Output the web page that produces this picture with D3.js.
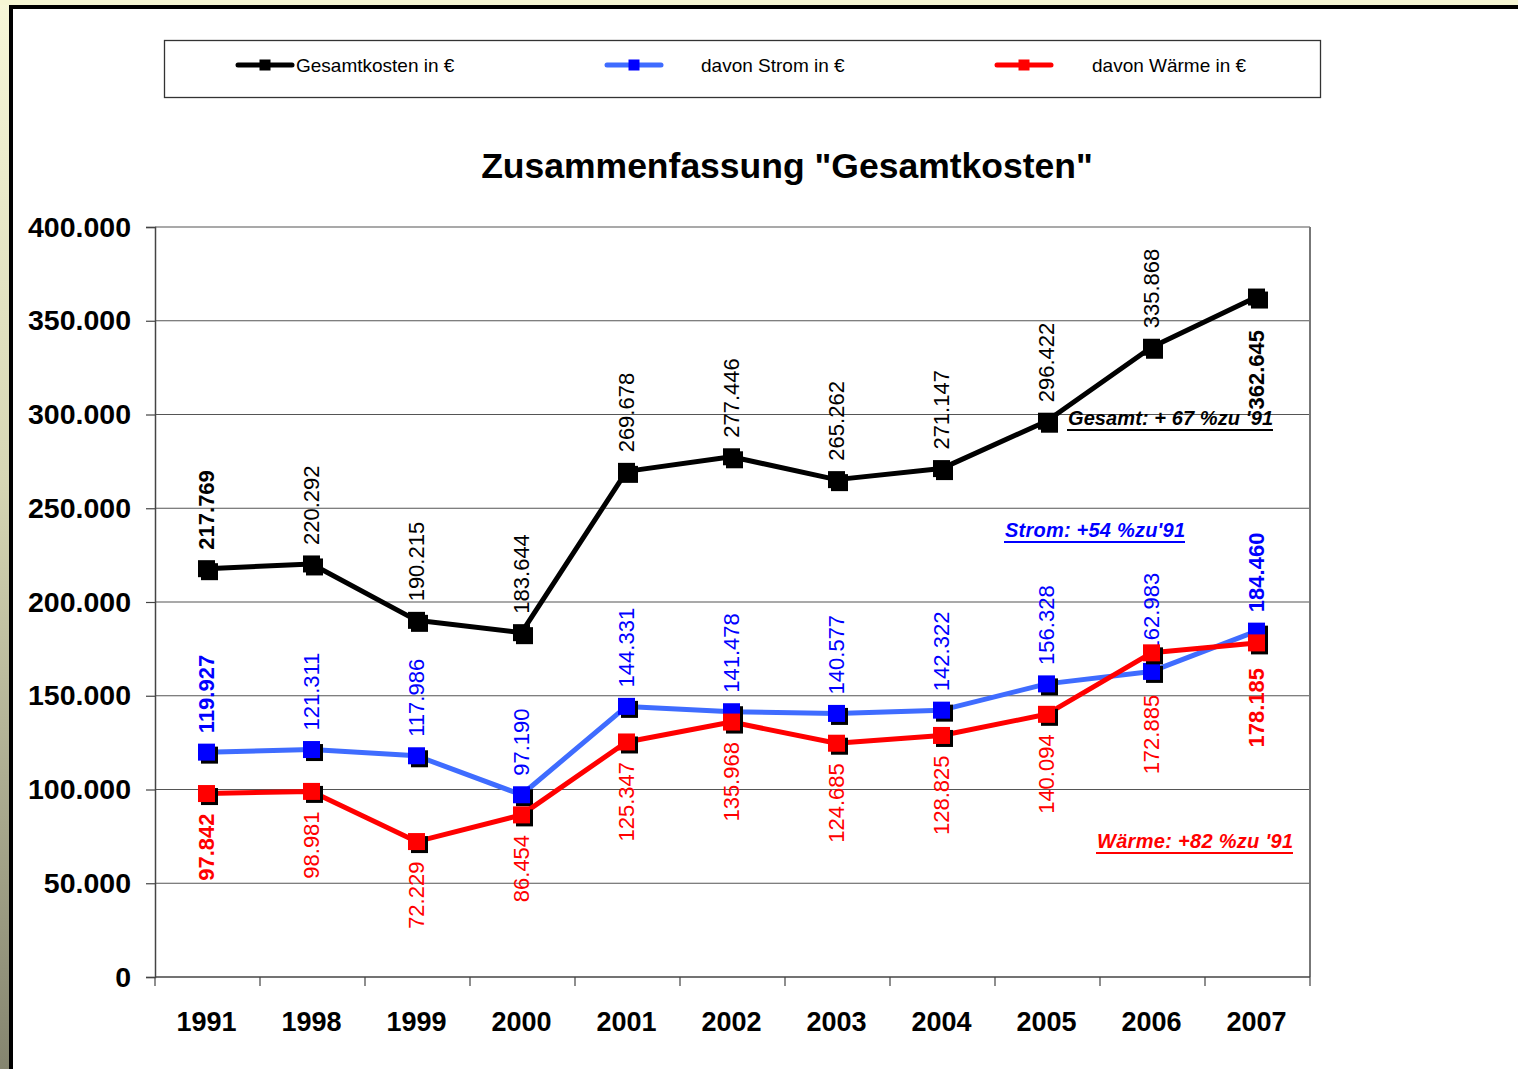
<!DOCTYPE html>
<html>
<head>
<meta charset="utf-8">
<script src="https://cdn.jsdelivr.net/npm/d3@7"></script>
<style>
  html, body { margin: 0; padding: 0; }
  body { width: 1518px; height: 1069px; overflow: hidden; }
  text { font-family: "Liberation Sans", Arial, sans-serif; }
</style>
</head>
<body>
<svg id="chart" width="1518" height="1069"></svg>
<script>
// data
const years = ["1991", "1998", "1999", "2000", "2001", "2002", "2003", "2004", "2005", "2006", "2007"];
const gesamt = [217769, 220292, 190215, 183644, 269678, 277446, 265262, 271147, 296422, 335868, 362645];
const strom = [119927, 121311, 117986, 97190, 144331, 141478, 140577, 142322, 156328, 162983, 184460];
const waerme = [97842, 98981, 72229, 86454, 125347, 135968, 124685, 128825, 140094, 172885, 178185];
const yTicks = [0, 50000, 100000, 150000, 200000, 250000, 300000, 350000, 400000];
const legendLabels = ["Gesamtkosten in €", "davon Strom in €", "davon Wärme in €"];
const notes = ["Gesamt: + 67 %zu '91", "Strom: +54 %zu'91", "Wärme: +82 %zu '91"];

const de = d3.formatLocale({ decimal: ",", thousands: ".", grouping: [3], currency: ["", " €"] });
const fmt = de.format(",d");

const svg = d3.select("#chart");

// frame
const defs = svg.append("defs");
const grad = defs.append("linearGradient").attr("id", "frame")
  .attr("x1", 0).attr("y1", 0).attr("x2", 0).attr("y2", 1);
grad.append("stop").attr("offset", "0%").attr("stop-color", "#f7f7d8");
grad.append("stop").attr("offset", "45%").attr("stop-color", "#d6d6b4");
grad.append("stop").attr("offset", "100%").attr("stop-color", "#85856f");
svg.append("rect").attr("width", 1518).attr("height", 1069).attr("fill", "url(#frame)");
svg.append("rect").attr("x", 0).attr("y", 0).attr("width", 1518).attr("height", 5).attr("fill", "#f6f6d4");
svg.append("rect").attr("x", 9).attr("y", 5).attr("width", 1520).attr("height", 1080).attr("fill", "#000");
svg.append("rect").attr("x", 13).attr("y", 9).attr("width", 1520).attr("height", 1080).attr("fill", "#fff");

const margin = { top: 227, left: 155, right: 1310, bottom: 977 };

const x = d3.scaleBand().domain(years).range([margin.left, margin.right]);
const y = d3.scaleLinear().domain([0, 400000]).range([margin.bottom, margin.top]);
const cx = d => x(d) + x.bandwidth() / 2 - 1;

// grid
svg.append("g").selectAll("line")
  .data(yTicks.filter(d => d > 0))
  .join("line")
  .attr("x1", margin.left).attr("x2", margin.right)
  .attr("y1", d => y(d)).attr("y2", d => y(d))
  .attr("stroke", "#555").attr("stroke-width", 1.2);

svg.append("line")
  .attr("x1", margin.right).attr("x2", margin.right)
  .attr("y1", margin.top).attr("y2", margin.bottom)
  .attr("stroke", "#777").attr("stroke-width", 2);

// y axis
const yAxis = svg.append("g")
  .attr("transform", `translate(${margin.left},0)`)
  .call(d3.axisLeft(y).tickValues(yTicks).tickSize(9).tickPadding(15).tickFormat(fmt));
yAxis.select(".domain").attr("stroke", "#444").attr("stroke-width", 1.5);
yAxis.selectAll(".tick line").attr("stroke", "#444").attr("stroke-width", 1.2);
yAxis.selectAll(".tick text")
  .attr("font-size", 28.5).attr("font-weight", "bold").attr("fill", "#000")
  .attr("font-family", "'Liberation Sans', Arial, sans-serif");

// x axis
svg.append("line")
  .attr("x1", margin.left).attr("x2", margin.right)
  .attr("y1", margin.bottom).attr("y2", margin.bottom)
  .attr("stroke", "#444").attr("stroke-width", 1.5);
svg.append("g").selectAll("line")
  .data(years.map(d => x(d)).concat([margin.right]))
  .join("line")
  .attr("x1", d => d).attr("x2", d => d)
  .attr("y1", margin.bottom).attr("y2", margin.bottom + 9)
  .attr("stroke", "#444").attr("stroke-width", 1.2);
const xAxis = svg.append("g")
  .attr("transform", `translate(-1,${margin.bottom})`)
  .call(d3.axisBottom(x).tickSize(0).tickPadding(35));
xAxis.select(".domain").remove();
xAxis.selectAll(".tick text")
  .attr("font-size", 27).attr("font-weight", "bold").attr("fill", "#000")
  .attr("font-family", "'Liberation Sans', Arial, sans-serif");

// title
svg.append("text")
  .attr("x", 787).attr("y", 178)
  .attr("text-anchor", "middle")
  .attr("font-size", 35.5).attr("font-weight", "bold")
  .text('Zusammenfassung "Gesamtkosten"');

// series
const series = [
  { key: "Gesamt", values: gesamt, line: "#000000", mark: "#000000", label: "#000000" },
  { key: "Strom", values: strom, line: "#3f6cff", mark: "#0000ff", label: "#0000ff" },
  { key: "Wärme", values: waerme, line: "#ff0000", mark: "#ff0000", label: "#ff0000" }
];
const labelNudge = { "Gesamt:2007": 13, "Wärme:2006": 22, "Wärme:2007": 5 };

const lineGen = d3.line().x((d, i) => cx(years[i])).y(d => y(d));
const ms = 17;

series.forEach(s => {
  const g = svg.append("g");
  g.append("path")
    .attr("d", lineGen(s.values))
    .attr("fill", "none").attr("stroke", s.line)
    .attr("stroke-width", 5).attr("stroke-linejoin", "round");

  g.selectAll(".shadow").data(s.values).join("rect")
    .attr("class", "shadow")
    .attr("x", (d, i) => cx(years[i]) - ms / 2 + 3)
    .attr("y", d => y(d) - ms / 2 + 3)
    .attr("width", ms).attr("height", ms).attr("fill", "#000");
  g.selectAll(".mark").data(s.values).join("rect")
    .attr("class", "mark")
    .attr("x", (d, i) => cx(years[i]) - ms / 2)
    .attr("y", d => y(d) - ms / 2)
    .attr("width", ms).attr("height", ms).attr("fill", s.mark);

  const last = s.values.length - 1;
  g.selectAll(".lbl").data(s.values).join("text")
    .attr("class", "lbl")
    .attr("transform", (d, i) => {
      const below = s.key === "Wärme" || (s.key === "Gesamt" && i === last);
      const nudge = labelNudge[s.key + ":" + years[i]] || 0;
      const ty = below ? y(d) + 20 + nudge : y(d) - 19;
      return `translate(${cx(years[i])},${ty}) rotate(-90)`;
    })
    .attr("text-anchor", (d, i) => (s.key === "Wärme" || (s.key === "Gesamt" && i === last)) ? "end" : "start")
    .attr("dy", "0.36em")
    .attr("font-size", 22)
    .attr("font-weight", (d, i) => (i === 0 || i === last) ? "bold" : "normal")
    .attr("fill", s.label)
    .text(d => fmt(d));
});

// notes
const notePos = [
  { x: 1068, y: 425, color: "#000", width: 205 },
  { x: 1005, y: 537, color: "#0000ff", width: 180 },
  { x: 1097, y: 848, color: "#ff0000", width: 196 }
];
notes.forEach((t, i) => {
  const p = notePos[i];
  svg.append("text")
    .attr("x", p.x).attr("y", p.y)
    .attr("font-size", 20).attr("font-weight", "bold").attr("font-style", "italic")
    .attr("fill", p.color)
    .attr("textLength", p.width).attr("lengthAdjust", "spacing")
    .text(t);
  svg.append("line")
    .attr("x1", p.x - 1).attr("x2", p.x + p.width)
    .attr("y1", p.y + 5).attr("y2", p.y + 5)
    .attr("stroke", p.color).attr("stroke-width", 2);
});

// legend
const legend = svg.append("g");
legend.append("rect")
  .attr("x", 164.5).attr("y", 40.5).attr("width", 1156).attr("height", 57)
  .attr("fill", "#fff").attr("stroke", "#333").attr("stroke-width", 1.3);
const legendItems = [
  { lx: 238, tx: 296 },
  { lx: 607, tx: 701 },
  { lx: 997, tx: 1092 }
];
legendItems.forEach((it, i) => {
  const s = series[i];
  legend.append("line")
    .attr("x1", it.lx).attr("x2", it.lx + 54)
    .attr("y1", 65).attr("y2", 65)
    .attr("stroke", s.line).attr("stroke-width", 5).attr("stroke-linecap", "round");
  legend.append("rect")
    .attr("x", it.lx + 27 - 5.5).attr("y", 65 - 5.5)
    .attr("width", 11).attr("height", 11).attr("fill", s.mark);
  legend.append("text")
    .attr("x", it.tx).attr("y", 72)
    .attr("font-size", 19).attr("fill", "#000")
    .text(legendLabels[i]);
});
</script>
</body>
</html>
